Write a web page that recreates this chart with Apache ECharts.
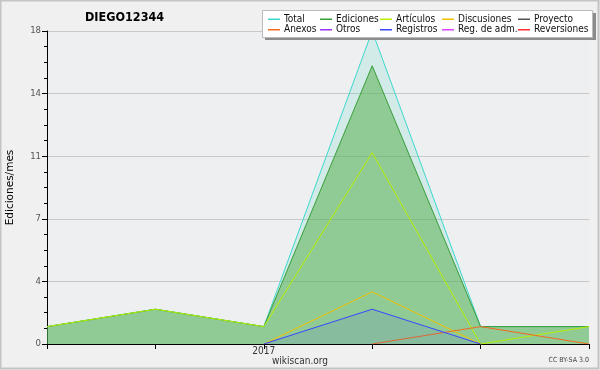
<!DOCTYPE html>
<html><head><meta charset="utf-8">
<script src="https://cdn.jsdelivr.net/npm/echarts@6/dist/echarts.min.js"></script>
<style>html,body{margin:0;padding:0;background:#f0f0f0}#c{width:600px;height:370px}</style>
</head><body><div id="c"></div>
<script>
var categories = ['2016-11','2016-12','2017-01','2017-02','2017-03','2017-04'];
var xTickLabels = ['','','2017','','',''];
var yTickLabels = ['0','4','7','11','14','18'];
var total       = [1, 2, 1, 18, 1, 1];
var ediciones   = [1, 2, 1, 16, 1, 1];
var articulos   = [1, 2, 1, 11, 0, 1];
var discusiones = [null, null, 0, 3, 0, null];
var proyecto    = [null, null, null, null, null, null];
var anexos      = [null, null, null, 0, 1, 0];
var otros       = [null, null, null, null, null, null];
var registros   = [null, null, 0, 2, 0, null];
var regAdm      = [null, null, null, null, null, null];
var reversiones = [null, null, null, null, null, null];

var F = 'DejaVu Sans';
var FC = '"DejaVu Sans Condensed", "DejaVu Sans"';
var chart = echarts.init(document.getElementById('c'), null, {renderer:'canvas'});

function ser(name, data, color, area, z) {
  var s = {name:name, type:'line', data:data, color:color, symbol:'none', z:z||2,
    lineStyle:{width:1, color:color}, itemStyle:{color:color}, silent:true, animation:false};
  if (area) s.areaStyle = {color: area, opacity: 1};
  return s;
}
function leg(left, names) {
  return {show:true, orient:'vertical', left:left, top:14, data:names, icon:'rect', z:30,
    itemWidth:12, itemHeight:1.5, itemGap:0, selectedMode:false, padding:0,
    textStyle:{fontFamily:FC, fontSize:10, lineHeight:10.5, color:'#111', padding:[0,0,0,-1]}};
}

chart.setOption({
  backgroundColor:'#f0f0f0',
  animation:false,
  title:{text:'DIEGO12344', left:85, top:11, padding:0,
    textStyle:{fontFamily:FC, fontWeight:'bold', fontSize:12.5, color:'#000'}},
  graphic:[
    {type:'rect', shape:{x:0.5,y:0.5,width:598,height:368}, style:{fill:null, stroke:'#c4c4c4', lineWidth:2}, z:-10},
    {type:'rect', shape:{x:265,y:13,width:331,height:27}, style:{fill:'#8c8c8c'}, z:10},
    {type:'rect', shape:{x:262.5,y:10.5,width:330,height:27}, style:{fill:'#fff', stroke:'#bbb', lineWidth:1}, z:11},
    {type:'text', left:'center', top:356, style:{text:'wikiscan.org', font:'10px "DejaVu Sans Condensed", "DejaVu Sans"', fill:'#333'}, z:12},
    {type:'text', right:11, top:357, style:{text:'CC BY-SA 3.0', font:'7px "DejaVu Sans Condensed", "DejaVu Sans"', fill:'#444'}, z:12}
  ],
  legend:[
    leg(268, ['Total','Anexos']),
    leg(320, ['Ediciones','Otros']),
    leg(380, ['Artículos','Registros']),
    leg(442, ['Discusiones','Reg. de adm.']),
    leg(518, ['Proyecto','Reversiones'])
  ],
  grid:{left:47, right:11, top:31, bottom:26, show:true, backgroundColor:'#eeeff1', borderWidth:0,
    containLabel:false, outerBoundsMode:'none'},
  xAxis:{type:'category', data:categories, boundaryGap:false,
    axisLine:{lineStyle:{color:'#000', width:1}},
    axisTick:{show:true, length:5, interval:0, lineStyle:{color:'#000'}},
    axisLabel:{interval:0, margin:2, fontFamily:FC, fontSize:10, color:'#333',
      formatter:function(v, i){ return xTickLabels[i]; }},
    splitLine:{show:false}},
  yAxis:{type:'value', min:0, max:18, interval:3.6,
    name:'Ediciones/mes', nameLocation:'middle', nameGap:31,
    nameTextStyle:{fontFamily:F, fontSize:10.5, color:'#000'},
    axisLine:{show:true, lineStyle:{color:'#000'}},
    axisTick:{show:true, length:5, lineStyle:{color:'#000'}},
    minorTick:{show:true, splitNumber:4, length:3, lineStyle:{color:'#000'}},
    axisLabel:{margin:6, fontFamily:FC, fontSize:9.5, color:'#555',
      formatter:function(v){ return yTickLabels[Math.round(v/3.6)]; }},
    splitLine:{show:true, lineStyle:{color:'#c8c8c8', width:1}}},
  series:[
    ser('Total', total, '#3dd8cc', 'rgba(70,215,190,0.17)', 2),
    ser('Ediciones', ediciones, '#3a9e3a', 'rgba(84,172,72,0.52)', 3),
    ser('Artículos', articulos, '#b8f000', null, 4),
    ser('Discusiones', discusiones, '#f2c200', null, 5),
    ser('Proyecto', proyecto, '#555555', null, 5),
    ser('Anexos', anexos, '#f26a1e', null, 5),
    ser('Otros', otros, '#9a33ff', null, 5),
    ser('Registros', registros, '#3a46ff', 'rgba(60,70,255,0.1)', 6),
    ser('Reg. de adm.', regAdm, '#e040ff', null, 5),
    ser('Reversiones', reversiones, '#ff2f2f', null, 5)
  ]
});
</script></body></html>
